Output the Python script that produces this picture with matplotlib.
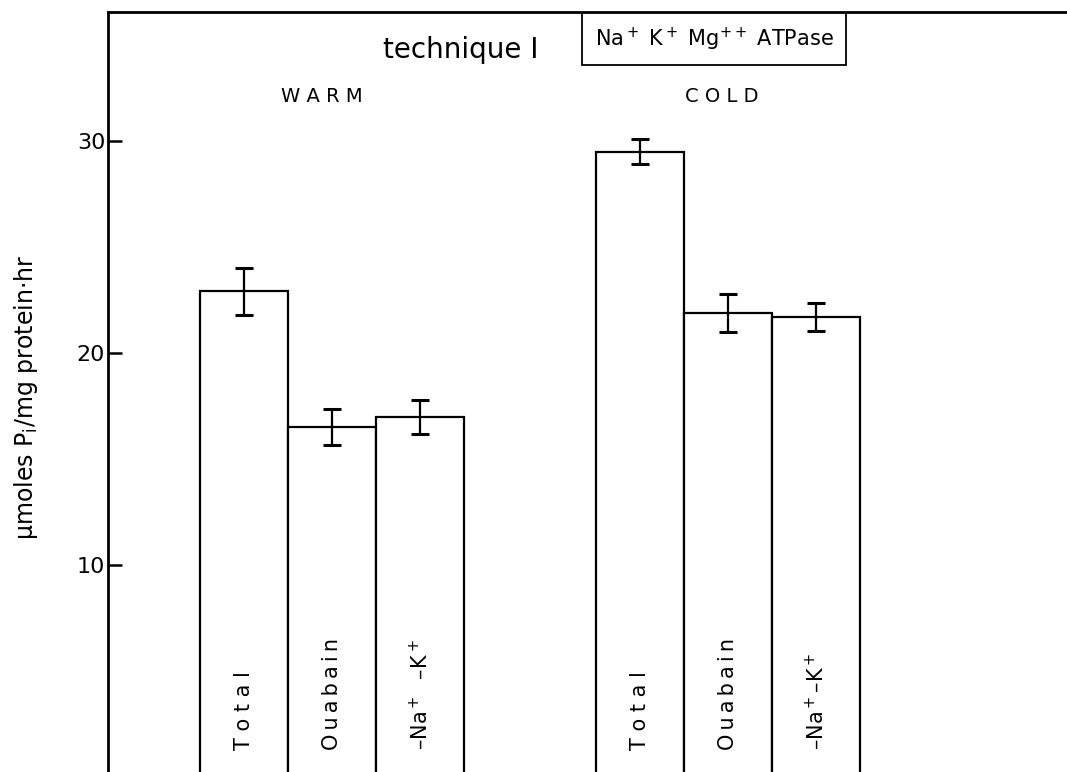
import numpy as np
import matplotlib.pyplot as plt

plt.rcParams['font.family'] = ['DejaVu Sans']
plt.rcParams['mathtext.default'] = 'regular'

# ATPase activity, technique I
warm_labels = ["T o t a l", "O\u2009u\u2009a\u2009b\u2009a\u2009i\u2009n", "\u2013Na$^+$  \u2013K$^+$"]
cold_labels = ["T o t a l", "O\u2009u\u2009a\u2009b\u2009a\u2009i\u2009n", "\u2013Na$^+$\u2013K$^+$"]
warm_means = [22.9, 16.5, 17.0]
warm_errs = [1.1, 0.85, 0.8]
cold_means = [29.5, 21.9, 21.7]
cold_errs = [0.6, 0.9, 0.65]

warm_x = np.array([0, 1, 2])
cold_x = warm_x + 4.5

fig = plt.figure(figsize=(10.67, 7.72), dpi=100)
ax = fig.add_axes([108 / 1067, 0.0, 1 - 108 / 1067, 1 - 12 / 772])

err_kw = dict(ecolor="black", elinewidth=1.6, capsize=6.5, capthick=2.2)
ax.bar(warm_x, warm_means, width=1.0, color="white", edgecolor="black",
       linewidth=1.6, yerr=warm_errs, error_kw=err_kw)
ax.bar(cold_x, cold_means, width=1.0, color="white", edgecolor="black",
       linewidth=1.6, yerr=cold_errs, error_kw=err_kw)

# labels written up the inside of each bar
for x, lab in zip(np.concatenate([warm_x, cold_x]), warm_labels + cold_labels):
    ax.text(x, 1.3, lab, rotation=90, ha="center", va="bottom", fontsize=15)

ax.set_xlim(-1.55, 9.35)
ax.set_ylim(0.24, 36.08)

ax.spines["right"].set_visible(False)
ax.spines["bottom"].set_visible(False)
ax.spines["left"].set_linewidth(2)
ax.spines["top"].set_linewidth(2)

ax.set_xticks([])
ax.set_yticks([10, 20, 30])
ax.tick_params(axis="y", direction="in", length=10, width=1.8,
               labelsize=16, pad=2)

ax.set_ylabel(r"$\mu$moles P$_{i}$/mg protein$\cdot$hr", fontsize=17)
ax.yaxis.set_label_coords(-0.071, 0.493)

ax.text(2.46, 34.29, "technique I", ha="center", va="center", fontsize=20)
ax.text(0.88, 32.08, "W A R M", ha="center", va="center", fontsize=14)
ax.text(5.43, 32.08, "C O L D", ha="center", va="center", fontsize=14)
ax.text(5.34, 34.8, "Na$^+$ K$^+$ Mg$^{++}$ ATPase", ha="center",
        va="center", fontsize=15,
        bbox=dict(boxstyle="square,pad=0.6", facecolor="white",
                  edgecolor="black", linewidth=1.3))

fig.savefig("out.png", dpi=100)
